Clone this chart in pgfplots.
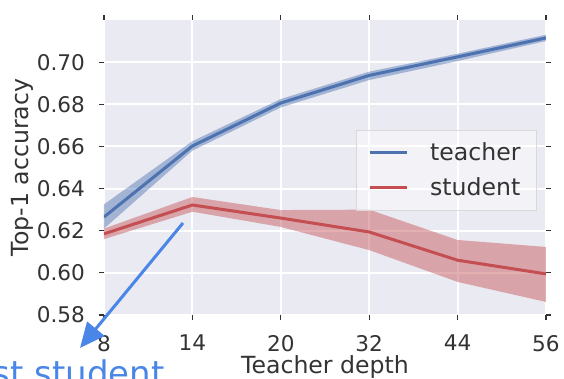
\documentclass[border=0pt]{standalone}
\usepackage{pgfplots}
\pgfplotsset{compat=1.18}
\usepackage{fontspec}
\setmainfont{DejaVu Sans}
\usetikzlibrary{arrows.meta}
\definecolor{bgc}{HTML}{EAEAF2}
\definecolor{tblue}{HTML}{4C72B0}
\definecolor{sred}{HTML}{C44E52}
\definecolor{txt}{HTML}{333333}
\definecolor{ann}{HTML}{4A86E8}
\begin{document}
\begin{tikzpicture}
\begin{axis}[
  at={(0pt,0pt)}, anchor=south west,
  scale only axis, width=221pt, height=147.5pt,
  xmin=0, xmax=5, ymin=0.58, ymax=0.72,
  axis background/.style={fill=bgc},
  axis line style={draw=none},
  grid=major, grid style={white, line width=1pt},
  xtick={0,1,2,3,4,5}, xticklabels={8,14,20,32,44,56},
  ytick={0.58,0.60,0.62,0.64,0.66,0.68,0.70},
  yticklabel style={/pgf/number format/.cd, fixed, fixed zerofill, precision=2},
  /pgf/number format/assume math mode=true,
  tick align=outside, major tick length=2.5pt,
  tick style={txt, line width=0.6pt},
  ticklabel style={font=\fontsize{10.8}{12}\selectfont, text=txt},
  xticklabel shift=4pt, yticklabel shift=3.5pt,
  xlabel={Teacher depth}, ylabel={Top-1 accuracy},
  label style={font=\fontsize{11.8}{13}\selectfont, text=txt},
  xlabel style={at={(axis description cs:0.5,-0.197)}, anchor=base},
  ylabel style={at={(axis description cs:-0.1855,0.5)}, anchor=center},
  legend style={at={(0.9796,0.627)}, anchor=north east,
    font=\fontsize{11.8}{13}\selectfont, text=txt,
    fill=white, fill opacity=0.45, text opacity=1, draw=black!15,
    row sep=3pt, inner xsep=6pt, inner ysep=4pt,
    /tikz/every odd column/.append style={column sep=9pt}},
  legend cell align=left,
  legend image code/.code={\draw[#1, line width=1.5pt] (0pt,0pt) -- (18.5pt,0pt);},
]
% bands
\addplot[draw=none, fill=tblue, fill opacity=0.45, forget plot] coordinates {
 (0,0.6325) (1,0.6625) (2,0.6825) (3,0.6955) (4,0.7040) (5,0.7130)
 (5,0.7100) (4,0.7005) (3,0.6915) (2,0.6785) (1,0.6580) (0,0.6210)};
\addplot[draw=none, fill=sred, fill opacity=0.45, forget plot] coordinates {
 (0,0.6210) (1,0.6360) (2,0.6298) (3,0.6300) (4,0.6156) (5,0.6123)
 (5,0.5862) (4,0.5957) (3,0.6108) (2,0.6218) (1,0.6290) (0,0.6160)};
% lines
\addplot[tblue, line width=1.5pt] coordinates {
 (0,0.6265) (1,0.6602) (2,0.6806) (3,0.6937) (4,0.7025) (5,0.7115)};
\addlegendentry{teacher}
\addplot[sred, line width=1.5pt] coordinates {
 (0,0.6185) (1,0.6322) (2,0.6260) (3,0.6194) (4,0.6060) (5,0.5995)};
\addlegendentry{student}
\end{axis}
\draw[ann, line width=1.5pt, -{Triangle[length=12.5pt, width=11pt]}] (39.5pt,46pt) -- (-12pt,-16.5pt);
\node[ann, anchor=base east, font=\fontsize{17}{19}\selectfont, inner sep=0pt] at (30.5pt,-35.5pt) {Best student};
\pgfresetboundingbox
\useasboundingbox (-52pt,-32pt) rectangle (230pt,157.5pt);
\end{tikzpicture}
\end{document}
